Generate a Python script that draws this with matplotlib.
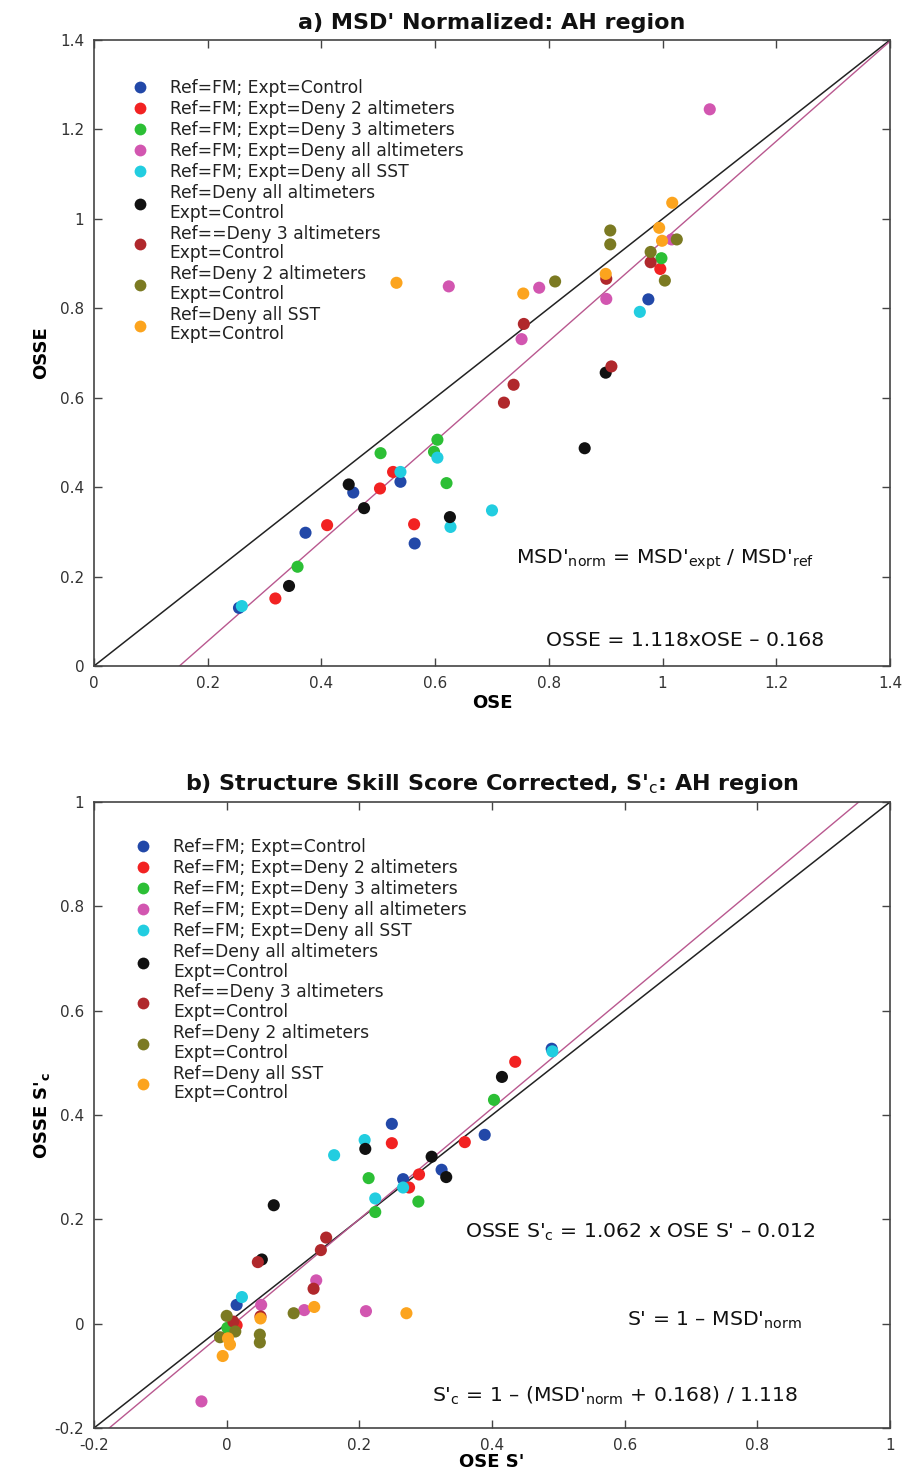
import matplotlib
matplotlib.use("Agg")
import matplotlib.pyplot as plt
from matplotlib.lines import Line2D
import numpy as np

plt.rcParams['font.family'] = ['DejaVu Sans']
plt.rcParams['mathtext.fontset'] = 'dejavusans'

# ---------------- legend / series definitions ----------------
series_labels = [
    "Ref=FM; Expt=Control",
    "Ref=FM; Expt=Deny 2 altimeters",
    "Ref=FM; Expt=Deny 3 altimeters",
    "Ref=FM; Expt=Deny all altimeters",
    "Ref=FM; Expt=Deny all SST",
    "Ref=Deny all altimeters\nExpt=Control",
    "Ref==Deny 3 altimeters\nExpt=Control",
    "Ref=Deny 2 altimeters\nExpt=Control",
    "Ref=Deny all SST\nExpt=Control",
]
series_colors = ["#2248a8", "#f22222", "#2cbf35", "#d256b0", "#22cde0",
                 "#111111", "#b0282c", "#7b7a22", "#fca41e"]

# ---------------- panel a: MSD' normalized (OSE vs OSSE) ----------------
a_fm_control_x = [0.255, 0.372, 0.456, 0.539, 0.564, 0.975]
a_fm_control_y = [0.130, 0.298, 0.388, 0.412, 0.274, 0.820]
a_fm_deny2_x = [0.319, 0.410, 0.503, 0.526, 0.563, 0.996]
a_fm_deny2_y = [0.151, 0.315, 0.397, 0.434, 0.317, 0.888]
a_fm_deny3_x = [0.358, 0.504, 0.598, 0.604, 0.620, 0.998]
a_fm_deny3_y = [0.222, 0.476, 0.479, 0.506, 0.409, 0.912]
a_fm_denyall_x = [0.624, 0.752, 0.783, 0.901, 1.083, 1.016]
a_fm_denyall_y = [0.849, 0.731, 0.846, 0.821, 1.245, 0.954]
a_fm_denysst_x = [0.260, 0.539, 0.604, 0.627, 0.700, 0.960]
a_fm_denysst_y = [0.134, 0.434, 0.466, 0.311, 0.348, 0.792]
a_denyall_ctl_x = [0.343, 0.448, 0.475, 0.626, 0.863, 0.900]
a_denyall_ctl_y = [0.179, 0.406, 0.353, 0.333, 0.487, 0.656]
a_deny3_ctl_x = [0.721, 0.738, 0.756, 0.901, 0.910, 0.979]
a_deny3_ctl_y = [0.589, 0.629, 0.765, 0.866, 0.670, 0.903]
a_deny2_ctl_x = [0.811, 0.908, 0.908, 0.979, 1.004, 1.025]
a_deny2_ctl_y = [0.860, 0.943, 0.974, 0.926, 0.862, 0.954]
a_denysst_ctl_x = [0.532, 0.755, 0.900, 0.994, 0.999, 1.017]
a_denysst_ctl_y = [0.857, 0.833, 0.877, 0.980, 0.951, 1.036]

# ---------------- panel b: structure skill score corrected ----------------
b_fm_control_x = [0.490, 0.249, 0.389, 0.324, 0.266, 0.015]
b_fm_control_y = [0.527, 0.383, 0.362, 0.295, 0.277, 0.036]
b_fm_deny2_x = [0.435, 0.249, 0.359, 0.290, 0.275, 0.015]
b_fm_deny2_y = [0.502, 0.346, 0.348, 0.286, 0.261, -0.003]
b_fm_deny3_x = [0.403, 0.214, 0.289, 0.224, 0.001]
b_fm_deny3_y = [0.429, 0.279, 0.234, 0.214, -0.008]
b_fm_denyall_x = [0.135, 0.052, 0.117, 0.210, -0.038]
b_fm_denyall_y = [0.083, 0.036, 0.026, 0.024, -0.149]
b_fm_denysst_x = [0.491, 0.208, 0.162, 0.266, 0.224, 0.023]
b_fm_denysst_y = [0.522, 0.352, 0.323, 0.261, 0.240, 0.051]
b_denyall_ctl_x = [0.415, 0.209, 0.309, 0.331, 0.071, 0.053]
b_denyall_ctl_y = [0.473, 0.335, 0.320, 0.281, 0.227, 0.123]
b_deny3_ctl_x = [0.150, 0.142, 0.047, 0.131, 0.051, 0.010]
b_deny3_ctl_y = [0.165, 0.141, 0.118, 0.067, 0.014, 0.004]
b_deny2_ctl_x = [0.101, 0.000, 0.013, -0.010, 0.050, 0.050]
b_deny2_ctl_y = [0.020, 0.015, -0.015, -0.026, -0.021, -0.036]
b_denysst_ctl_x = [0.132, 0.271, 0.051, 0.002, 0.005, -0.006]
b_denysst_ctl_y = [0.032, 0.020, 0.010, -0.028, -0.040, -0.062]

a_series = [(a_fm_control_x, a_fm_control_y), (a_fm_deny2_x, a_fm_deny2_y),
            (a_fm_deny3_x, a_fm_deny3_y), (a_fm_denyall_x, a_fm_denyall_y),
            (a_fm_denysst_x, a_fm_denysst_y), (a_denyall_ctl_x, a_denyall_ctl_y),
            (a_deny3_ctl_x, a_deny3_ctl_y), (a_deny2_ctl_x, a_deny2_ctl_y),
            (a_denysst_ctl_x, a_denysst_ctl_y)]
b_series = [(b_fm_control_x, b_fm_control_y), (b_fm_deny2_x, b_fm_deny2_y),
            (b_fm_deny3_x, b_fm_deny3_y), (b_fm_denyall_x, b_fm_denyall_y),
            (b_fm_denysst_x, b_fm_denysst_y), (b_denyall_ctl_x, b_denyall_ctl_y),
            (b_deny3_ctl_x, b_deny3_ctl_y), (b_deny2_ctl_x, b_deny2_ctl_y),
            (b_denysst_ctl_x, b_denysst_ctl_y)]

# regression fits
a_slope, a_icpt = 1.118, -0.168
b_slope, b_icpt = 1.062, -0.012

a_xticks = [0, 0.2, 0.4, 0.6, 0.8, 1, 1.2, 1.4]
a_yticks = [0, 0.2, 0.4, 0.6, 0.8, 1, 1.2, 1.4]
b_xticks = [-0.2, 0, 0.2, 0.4, 0.6, 0.8, 1]
b_yticks = [-0.2, 0, 0.2, 0.4, 0.6, 0.8, 1]

W, H = 907, 1484
fig = plt.figure(figsize=(W / 100, H / 100), dpi=100)

ax_a = fig.add_axes([94 / W, (H - 666) / H, 796 / W, 626 / H])
ax_b = fig.add_axes([94 / W, (H - 1428) / H, 796 / W, 626 / H])

axis_col = "#444444"
line_pink = "#b9588f"
DASH = "\u2013"


def fmt(v):
    return "%g" % v


def style(ax, xt, yt, lims):
    ax.set_xlim(lims)
    ax.set_ylim(lims)
    ax.set_xticks(xt)
    ax.set_yticks(yt)
    ax.set_xticklabels([fmt(v) for v in xt])
    ax.set_yticklabels([fmt(v) for v in yt])
    ax.tick_params(direction='in', length=6, width=1, top=True, right=True,
                   colors=axis_col, labelsize=11, labelcolor="#333333", pad=7)
    for s in ax.spines.values():
        s.set_color(axis_col)
        s.set_linewidth(1.2)


def scatter_series(ax, series):
    for (xs, ys), c in zip(series, series_colors):
        ax.scatter(xs, ys, s=76, color=c, edgecolors='none', zorder=3)


def add_legend(ax, anchor):
    handles = [Line2D([], [], linestyle='none', marker='o', markersize=8.5,
                      markerfacecolor=c, markeredgecolor='none') for c in series_colors]
    leg = ax.legend(handles, series_labels, loc='upper left', bbox_to_anchor=anchor,
                    frameon=False, fontsize=12.3, handlelength=1.0, handletextpad=1.25,
                    labelspacing=0.17, borderpad=0, borderaxespad=0)
    for t in leg.get_texts():
        t.set_color("#222222")
        t.set_linespacing(1.12)
    return leg


TXT = dict(ha='center', va='center', fontsize=14.7, color="#111111")

# ---------------- panel a ----------------
style(ax_a, a_xticks, a_yticks, (0, 1.4))
lim_a = np.array([0, 1.4])
ax_a.plot(lim_a, lim_a, color="#222222", lw=1.1, zorder=2)
ax_a.plot(lim_a, a_slope * lim_a + a_icpt, color=line_pink, lw=1.0, zorder=2)
scatter_series(ax_a, a_series)
add_legend(ax_a, (0.047, 0.937))
ax_a.set_title("a) MSD' Normalized: AH region", fontsize=16, fontweight='bold',
               pad=8, color="#111111")
ax_a.set_xlabel("OSE", fontsize=13, fontweight='bold', labelpad=2)
ax_a.set_ylabel("OSSE", fontsize=13, fontweight='bold', labelpad=7)
ax_a.text(1.004, 0.237, r"MSD'$_{\rm norm}$ = MSD'$_{\rm expt}$ / MSD'$_{\rm ref}$", **TXT)
ax_a.text(1.04, 0.058, "OSSE = 1.118xOSE " + DASH + " 0.168", **TXT)

# ---------------- panel b ----------------
style(ax_b, b_xticks, b_yticks, (-0.2, 1.0))
lim_b = np.array([-0.2, 1.0])
ax_b.plot(lim_b, lim_b, color="#222222", lw=1.1, zorder=2)
ax_b.plot(lim_b, b_slope * lim_b + b_icpt, color=line_pink, lw=1.0, zorder=2)
scatter_series(ax_b, b_series)
add_legend(ax_b, (0.051, 0.942))
ax_b.set_title(r"b) Structure Skill Score Corrected, S'$_{\rm c}$: AH region", fontsize=16,
               fontweight='bold', pad=9, color="#111111")
ax_b.set_xlabel("OSE S'", fontsize=13, fontweight='bold', labelpad=0)
ax_b.set_ylabel(r"OSSE S'$_{\bf c}$", fontsize=13, fontweight='bold', labelpad=2)
ax_b.text(0.623, 0.176, r"OSSE S'$_{\rm c}$ = 1.062 x OSE S' " + DASH + " 0.012", **TXT)
ax_b.text(0.736, 0.007, "S' = 1 " + DASH + r" MSD'$_{\rm norm}$", **TXT)
ax_b.text(0.586, -0.139,
          r"S'$_{\rm c}$ = 1 " + DASH + r" (MSD'$_{\rm norm}$ + 0.168) / 1.118", **TXT)

fig.savefig("out.png", dpi=100, facecolor="white")
